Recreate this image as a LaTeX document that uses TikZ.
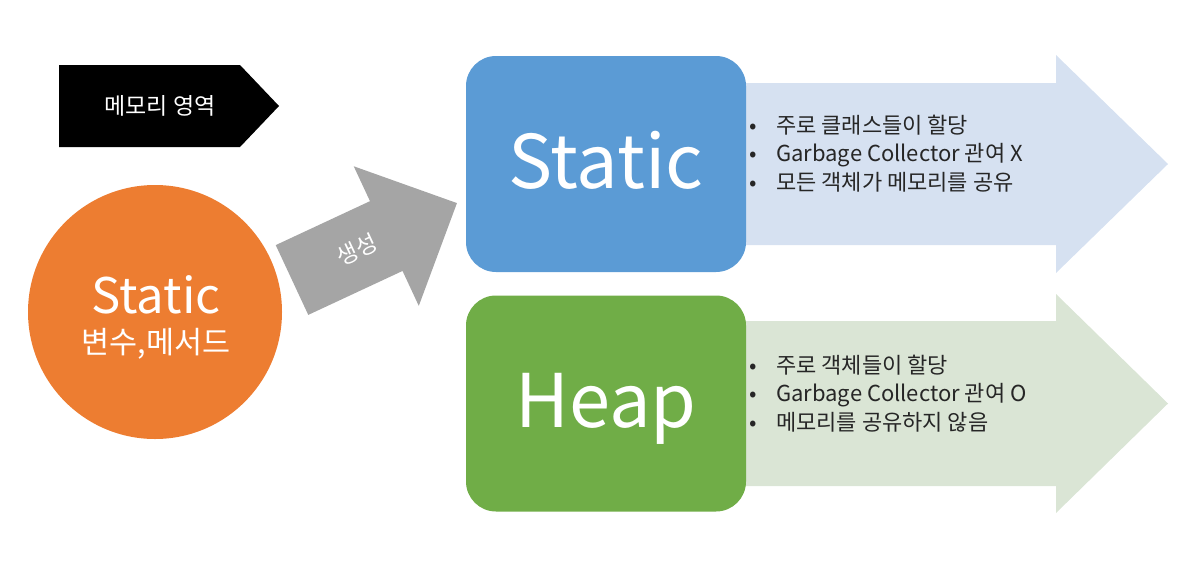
\documentclass[tikz,border=0pt]{standalone}
\usepackage{fontspec}
\setmainfont{Noto Sans CJK KR}
\usepackage{tikz}

\definecolor{memorange}{HTML}{ED7D31}
\definecolor{memblue}{HTML}{5B9BD5}
\definecolor{memgreen}{HTML}{70AD47}
\definecolor{memgray}{HTML}{A5A5A5}
\definecolor{lightblue}{HTML}{D6E1F1}
\definecolor{lightgreen}{HTML}{DAE5D5}
\definecolor{bodytext}{HTML}{262626}
\newcommand\memdot{\makebox[27pt][l]{\fontsize{22}{22}\selectfont •}}

\begin{document}
\begin{tikzpicture}[x=1pt, y=-1pt,
  area/.style={rounded corners=30pt, minimum width=280pt, minimum height=216pt, inner sep=0pt},
  bigtxt/.style={white, font=\fontsize{74}{74}\selectfont, anchor=base},
  bullets/.style={anchor=west, align=left, text=bodytext, font=\fontsize{22}{28.5}\selectfont, inner sep=0pt}]
  \useasboundingbox (0,0) rectangle (1196,560);
  \fill[lightblue] (700,83) -- (1056,83) -- (1056,55) -- (1168,164) -- (1056,273) -- (1056,245) -- (700,245) -- cycle;
  \fill[lightgreen] (700,321) -- (1056,321) -- (1056,294) -- (1168,403.5) -- (1056,513) -- (1056,486) -- (700,486) -- cycle;
  \fill (59,65) -- (240,65) -- (279,106) -- (240,147) -- (59,147) -- cycle;
  \node[white, font=\fontsize{23}{23}\selectfont] (legend) at (160,106) {메모리 영역};
  \node[circle, fill=memorange, minimum size=254pt, inner sep=0pt] (var) at (155,312) {};
  \node[white, font=\fontsize{49}{49}\selectfont, anchor=base] (vartitle) at (156,313) {Static};
  \node[white, font=\fontsize{30.5}{30.5}\selectfont, anchor=base] (varsub) at (156,353) {변수,메서드};
  \begin{scope}[shift={(292,280)}, rotate=25]
    \fill[memgray] (0,-38.5) -- (104,-38.5) -- (104,-77) -- (182,0) -- (104,77) -- (104,38.5) -- (0,38.5) -- cycle;
    \node[white, rotate=25, font=\fontsize{23}{23}\selectfont] (make) at (72,0) {생성};
  \end{scope}
  \node[area, fill=memblue] (static) at (606,164) {};
  \node[area, fill=memgreen] (heap) at (606,403.5) {};
  \node[bigtxt] (statictxt) at ([yshift=-24pt]static.center) {Static};
  \node[bigtxt] (heaptxt) at ([yshift=-24pt]heap.center) {Heap};
  \node[bullets] (staticlist) at (749,153.5) {\memdot 주로 클래스들이 할당\\ \memdot Garbage Collector 관여 X\\ \memdot 모든 객체가 메모리를 공유};
  \node[bullets] (heaplist) at (749,393.5) {\memdot 주로 객체들이 할당\\ \memdot Garbage Collector 관여 O\\ \memdot 메모리를 공유하지 않음};
\end{tikzpicture}
\end{document}
